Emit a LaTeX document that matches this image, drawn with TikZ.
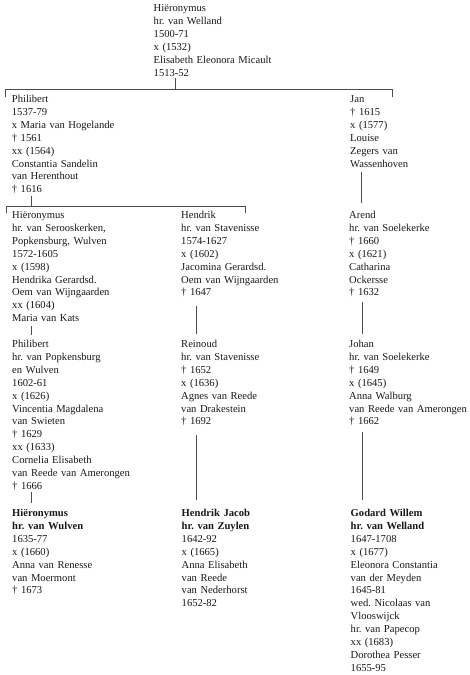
\documentclass[tikz,border=0pt]{standalone}
\usepackage{fontspec}
\setmainfont{Liberation Serif}
\frenchspacing
\begin{document}
\begin{tikzpicture}[x=1pt,y=-1pt,
  person/.style={anchor=base west, text width=150pt, align=left, inner sep=0pt,
    font=\fontsize{10.6}{12.9}\selectfont\frenchspacing, text=black!90},
  link/.style={draw=black!70, line width=0.6pt}]
\useasboundingbox[fill=white] (0,0) rectangle (470,675);

% nodes
\node[person] (top) at (153.5,11.5) {Hiëronymus\\hr. van Welland\\1500-71\\x (1532)\\Elisabeth Eleonora Micault\\1513-52};

\node[person] (phil1) at (11.7,102.5) {Philibert\\1537-79\\x Maria van Hogelande\\† 1561\\xx (1564)\\Constantia Sandelin\\van Herenthout\\† 1616};
\node[person] (jan) at (350,102.5) {Jan\\† 1615\\x (1577)\\Louise\\Zegers van\\Wassenhoven};

\node[person] (hier2) at (12,218.5) {Hiëronymus\\hr. van Serooskerken,\\Popkensburg, Wulven\\1572-1605\\x (1598)\\Hendrika Gerardsd.\\Oem van Wijngaarden\\xx (1604)\\Maria van Kats};
\node[person] (hend2) at (181,218.5) {Hendrik\\hr. van Stavenisse\\1574-1627\\x (1602)\\Jacomina Gerardsd.\\Oem van Wijngaarden\\† 1647};
\node[person] (arend) at (349,218.5) {Arend\\hr. van Soelekerke\\† 1660\\x (1621)\\Catharina\\Ockersse\\† 1632};

\node[person] (phil3) at (12,347.5) {Philibert\\hr. van Popkensburg\\en Wulven\\1602-61\\x (1626)\\Vincentia Magdalena\\van Swieten\\† 1629\\xx (1633)\\Cornelia Elisabeth\\van Reede van Amerongen\\† 1666};
\node[person] (rein) at (181,347.5) {Reinoud\\hr. van Stavenisse\\† 1652\\x (1636)\\Agnes van Reede\\van Drakestein\\† 1692};
\node[person] (johan) at (349,347.5) {Johan\\hr. van Soelekerke\\† 1649\\x (1645)\\Anna Walburg\\van Reede van Amerongen\\† 1662};

\node[person] (hier4) at (12,516.5) {\textbf{Hiëronymus}\\\textbf{hr. van Wulven}\\1635-77\\x (1660)\\Anna van Renesse\\van Moermont\\† 1673};
\node[person] (hj4) at (181.5,516.5) {\textbf{Hendrik Jacob}\\\textbf{hr. van Zuylen}\\1642-92\\x (1665)\\Anna Elisabeth\\van Reede\\van Nederhorst\\1652-82};
\node[person] (god4) at (350.5,516.5) {\textbf{Godard Willem}\\\textbf{hr. van Welland}\\1647-1708\\x (1677)\\Eleonora Constantia\\van der Meyden\\1645-81\\wed. Nicolaas van\\Vlooswijck\\hr. van Papecop\\xx (1683)\\Dorothea Pesser\\1655-95};

% junction coordinates
\coordinate (topD) at (175,78);
\coordinate (bar1) at (175,89);
\coordinate (bar1L) at (5.5,89);
\coordinate (bar1R) at (392.5,89);
\coordinate (phil1T) at (5.5,97);
\coordinate (janT) at (392.5,97);

\coordinate (janD) at (361.5,172);
\coordinate (arendT) at (361.5,203);

\coordinate (phil1D) at (31,196);
\coordinate (bar2) at (31,206.5);
\coordinate (bar2L) at (6,206.5);
\coordinate (bar2R) at (245,206.5);
\coordinate (hier2T) at (6,213);
\coordinate (hend2T) at (245,213);

\coordinate (hier2D) at (31,326);
\coordinate (phil3T) at (31,335);
\coordinate (hend2D) at (196,306);
\coordinate (reinT) at (196,334);
\coordinate (arendD) at (362,302);
\coordinate (johanT) at (362,334);

\coordinate (phil3D) at (31,492);
\coordinate (hier4T) at (31,503);
\coordinate (reinD) at (196,435);
\coordinate (hj4T) at (196,500);
\coordinate (johanD) at (362,432);
\coordinate (god4T) at (362,500);

% connectors
\draw[link] (topD) -- (bar1);
\draw[link] (phil1T) -- (bar1L) -- (bar1R) -- (janT);
\draw[link] (janD) -- (arendT);
\draw[link] (phil1D) -- (bar2);
\draw[link] (hier2T) -- (bar2L) -- (bar2R) -- (hend2T);
\draw[link] (hier2D) -- (phil3T);
\draw[link] (hend2D) -- (reinT);
\draw[link] (arendD) -- (johanT);
\draw[link] (phil3D) -- (hier4T);
\draw[link] (reinD) -- (hj4T);
\draw[link] (johanD) -- (god4T);
\end{tikzpicture}
\end{document}
